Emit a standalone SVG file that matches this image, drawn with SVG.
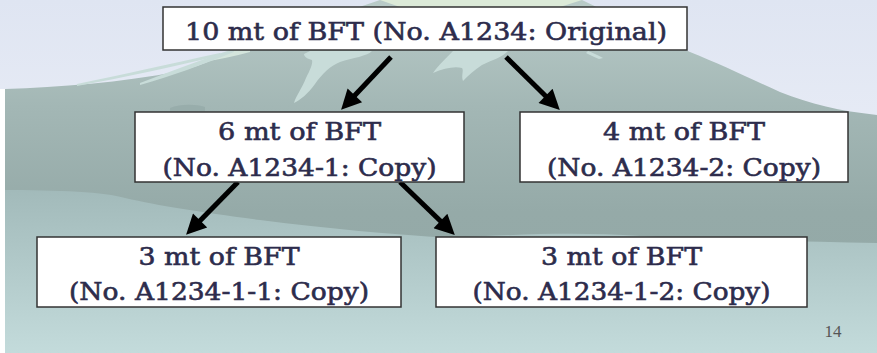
<svg xmlns="http://www.w3.org/2000/svg" width="877" height="353" viewBox="0 0 877 353">
  <defs>
    <linearGradient id="sky" x1="0" y1="0" x2="0" y2="1">
      <stop offset="0" stop-color="#dfe5f2"/>
      <stop offset="1" stop-color="#f3f5fb"/>
    </linearGradient>
    <linearGradient id="mtn" x1="0" y1="0" x2="0" y2="1">
      <stop offset="0" stop-color="#b9cbc8"/>
      <stop offset="0.3" stop-color="#a3b7b5"/>
      <stop offset="0.6" stop-color="#95aaa8"/>
      <stop offset="1" stop-color="#92a8a6"/>
    </linearGradient>
    <linearGradient id="fore" x1="0" y1="0" x2="0" y2="1">
      <stop offset="0" stop-color="#a2baba"/>
      <stop offset="1" stop-color="#c3dbdb"/>
    </linearGradient>
    <marker id="ah" viewBox="0 0 10 10" refX="2" refY="5" markerWidth="4.4" markerHeight="4" orient="auto" markerUnits="strokeWidth">
      <path d="M0,0 L10,5 L0,10 Z" fill="#000"/>
    </marker>
    <style>
      .box{fill:#fff;stroke:#333;stroke-width:1.5}
      .t{font-family:"DejaVu Serif","Liberation Serif",serif;font-size:24px;fill:#2d2c4c;stroke:#2d2c4c;stroke-width:0.6;text-anchor:middle}
      .conn{stroke:#000;stroke-width:5;fill:none;marker-end:url(#ah)}
      .streak{fill:#c8dcd9}
    </style>
  </defs>

  <g id="background">
    <rect x="0" y="0" width="877" height="353" fill="url(#sky)"/>
    <path d="M5,89 C60,87 120,83 180,71 C205,65 220,56 233,50 L380,0 L582,0 L690,52 C720,64 747,77 780,92 C810,104 840,111 877,115 L877,353 L5,353 Z" fill="url(#mtn)"/>
    <path d="M380,0 L582,0 L560,7 L400,7 Z" fill="#dcead8"/>
    <path d="M200,62 C212,59 224,54 233,50 L250,44 L250,52 C235,56 218,60 200,62 Z" fill="#d4e5dc"/>
    <path class="streak" d="M77,84 C120,75 170,64 220,53 L222,55 C172,67 122,78 77,86 Z"/>
    <path class="streak" d="M140,83 C170,72 200,60 233,49 L234,52 C204,64 172,76 140,85 Z"/>
    <path class="streak" d="M310,51 L372,51 C368,56 352,58 340,62 C330,66 322,74 315,84 C308,94 300,100 294,103 C296,96 302,88 306,78 C310,70 313,64 312,60 C308,59 304,57 304,54 Z"/>
    <path class="streak" d="M453,51 L508,51 C503,57 492,60 482,65 C474,70 468,76 463,81 C461,76 464,70 462,68 C455,66 444,68 433,73 C438,66 446,58 453,51 Z"/>
    <path class="streak" d="M588,51 C593,53 598,55 603,58 L599,59 C594,57 590,55 586,53 Z"/>
    <path d="M170,108 C180,104 195,104 205,107 L205,111 L170,111 Z" fill="#8ea3a1" opacity="0.5"/>
    <path d="M0,190 C60,190 105,192 125,198 C160,206 200,212 260,220 C330,229 390,234 450,238 C520,234 580,232 640,236 C720,241 800,241 877,243 L877,353 L0,353 Z" fill="url(#fore)"/>
    <rect x="0" y="89" width="5" height="264" fill="#ffffff"/>
  </g>

  <g id="connectors">
    <line class="conn" x1="391" y1="57" x2="352.1" y2="98.2"/>
    <line class="conn" x1="506" y1="57" x2="548.4" y2="98.7"/>
    <line class="conn" x1="238" y1="182" x2="197.3" y2="223.4"/>
    <line class="conn" x1="400" y1="182" x2="443.3" y2="223.8"/>
  </g>

  <g id="node-original">
    <rect class="box" x="163" y="7" width="524" height="43"/>
    <text class="t" x="426" y="40" textLength="482" lengthAdjust="spacingAndGlyphs">10 mt of BFT (No. A1234: Original)</text>
  </g>

  <g id="node-copy-1">
    <rect class="box" x="135" y="112" width="329" height="70"/>
    <text class="t" x="299.5" y="140" textLength="163" lengthAdjust="spacingAndGlyphs">6 mt of BFT</text>
    <text class="t" x="299.5" y="176" textLength="274" lengthAdjust="spacingAndGlyphs">(No. A1234-1: Copy)</text>
  </g>

  <g id="node-copy-2">
    <rect class="box" x="520" y="112" width="328" height="70"/>
    <text class="t" x="684" y="140" textLength="162" lengthAdjust="spacingAndGlyphs">4 mt of BFT</text>
    <text class="t" x="684" y="176" textLength="274" lengthAdjust="spacingAndGlyphs">(No. A1234-2: Copy)</text>
  </g>

  <g id="node-copy-1-1">
    <rect class="box" x="37" y="237" width="364" height="70"/>
    <text class="t" x="219" y="265" textLength="161" lengthAdjust="spacingAndGlyphs">3 mt of BFT</text>
    <text class="t" x="219" y="300" textLength="300" lengthAdjust="spacingAndGlyphs">(No. A1234-1-1: Copy)</text>
  </g>

  <g id="node-copy-1-2">
    <rect class="box" x="436" y="237" width="371" height="70"/>
    <text class="t" x="621.5" y="265" textLength="161" lengthAdjust="spacingAndGlyphs">3 mt of BFT</text>
    <text class="t" x="621.5" y="300" textLength="298" lengthAdjust="spacingAndGlyphs">(No. A1234-1-2: Copy)</text>
  </g>

  <text x="833" y="337" font-family="Liberation Serif, serif" font-size="17" fill="#555" text-anchor="middle">14</text>
</svg>
